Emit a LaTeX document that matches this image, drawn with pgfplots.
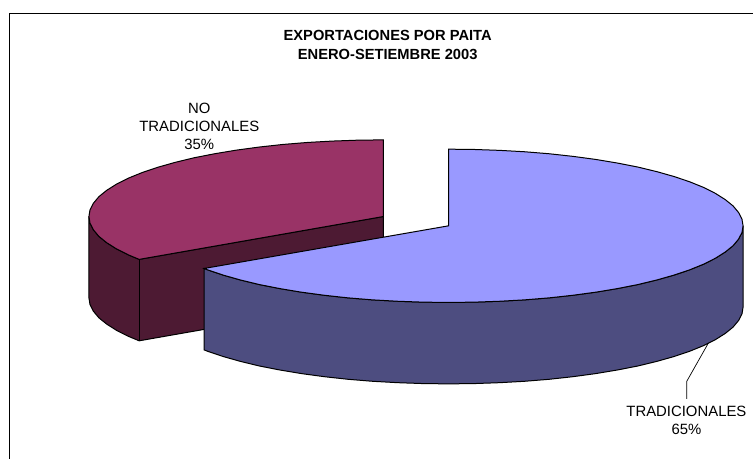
\documentclass[border=0pt]{standalone}
\usepackage{pgfplots}
\pgfplotsset{compat=1.18}
\usepackage{fontspec}
\setmainfont{Liberation Sans}
\definecolor{bluetop}{HTML}{9999FF}
\definecolor{blueside}{HTML}{4D4D80}
\definecolor{redtop}{HTML}{993366}
\definecolor{redside}{HTML}{4D1A33}
\begin{document}
\begin{tikzpicture}[x=1bp,y=1bp]
\begin{axis}[
  scale only axis, width=754bp, height=459bp,
  xmin=0, xmax=754, ymin=0, ymax=459, y dir=reverse,
  hide axis, clip=false,
]
\path (axis cs:0,0) rectangle (axis cs:754,459);
% chart frame (open at the picture's right and bottom edges)
\addplot[black, line width=1.3bp] coordinates {(9.3,459) (9.3,13.5) (754,13.5)};
% NO TRADICIONALES 35%: walls
\addplot[fill=redside, draw=black, line width=1bp] coordinates {
 (89,216.7) (90.1,223.4) (93.5,230) (99,236.6) (106.8,242.9) (116.6,249.1) (128.5,255.1) (139.3,259.6)
 (383.7,216.7) (383.7,298.2) (139.3,341.1)
 (128.5,336.6) (116.6,330.6) (106.8,324.4) (99,318.1) (93.5,311.5) (90.1,304.9) (89,298.2)
} -- cycle;
\addplot[draw=black, line width=1bp] coordinates {(139.3,259.6) (139.3,341.1)};
% NO TRADICIONALES 35%: top
\addplot[fill=redtop, draw=black, line width=1bp] coordinates {
 (383.7,216.7) (383.7,140) (358,140.3) (332.5,141.2) (307.4,142.6) (282.9,144.6) (259.2,147.2) (236.3,150.3)
 (214.7,153.9) (194.3,157.9) (175.3,162.5) (158,167.4) (142.3,172.7) (128.5,178.3) (116.6,184.3)
 (106.8,190.5) (99,196.8) (93.5,203.4) (90.1,210) (89,216.7) (90.1,223.4) (93.5,230) (99,236.6)
 (106.8,242.9) (116.6,249.1) (128.5,255.1) (139.3,259.6)
} -- cycle;
% TRADICIONALES 65%: wall
\addplot[fill=blueside, draw=black, line width=1bp] coordinates {
 (743.7,226) (742.6,232.7) (739.2,239.3) (733.7,245.9) (725.9,252.2) (716.1,258.4) (704.2,264.4) (690.4,270)
 (674.7,275.3) (657.4,280.2) (638.4,284.8) (618,288.8) (596.4,292.4) (573.5,295.5) (549.8,298.1) (525.3,300.1)
 (500.2,301.5) (474.7,302.4) (449,302.7) (423.3,302.4) (397.8,301.5) (372.7,300.1) (348.2,298.1) (324.5,295.5)
 (301.6,292.4) (280,288.8) (259.6,284.8) (240.6,280.2) (223.3,275.3) (207.6,270) (204.3,268.7)
 (204.3,350.2) (207.6,351.5) (223.3,356.8) (240.6,361.7) (259.6,366.3) (280,370.3) (301.6,373.9) (324.5,377)
 (348.2,379.6) (372.7,381.6) (397.8,383) (423.3,383.9) (449,384.2) (474.7,383.9) (500.2,383) (525.3,381.6)
 (549.8,379.6) (573.5,377) (596.4,373.9) (618,370.3) (638.4,366.3) (657.4,361.7) (674.7,356.8) (690.4,351.5)
 (704.2,345.9) (716.1,339.9) (725.9,333.7) (733.7,327.4) (739.2,320.8) (742.6,314.2) (743.7,307.5)
} -- cycle;
% TRADICIONALES 65%: top
\addplot[fill=bluetop, draw=black, line width=1bp] coordinates {
 (449,226) (449,149.3) (474.7,149.6) (500.2,150.5) (525.3,151.9) (549.8,153.9) (573.5,156.5) (596.4,159.6)
 (618,163.2) (638.4,167.2) (657.4,171.8) (674.7,176.7) (690.4,182) (704.2,187.6) (716.1,193.6) (725.9,199.8)
 (733.7,206.1) (739.2,212.7) (742.6,219.3) (743.7,226)
 (742.6,232.7) (739.2,239.3) (733.7,245.9) (725.9,252.2) (716.1,258.4) (704.2,264.4) (690.4,270)
 (674.7,275.3) (657.4,280.2) (638.4,284.8) (618,288.8) (596.4,292.4) (573.5,295.5) (549.8,298.1) (525.3,300.1)
 (500.2,301.5) (474.7,302.4) (449,302.7) (423.3,302.4) (397.8,301.5) (372.7,300.1) (348.2,298.1) (324.5,295.5)
 (301.6,292.4) (280,288.8) (259.6,284.8) (240.6,280.2) (223.3,275.3) (207.6,270) (204.3,268.7)
} -- cycle;
% leader line
\addplot[black, line width=0.7bp] coordinates {(709,343.3) (687.3,381.7) (687.3,399.3)};
% texts
\node[align=center, font=\fontsize{14.7bp}{19.5bp}\selectfont\bfseries] at (axis cs:388,45) {EXPORTACIONES POR PAITA\\ENERO-SETIEMBRE 2003};
\node[align=center, font=\fontsize{14.9bp}{18.3bp}\selectfont] at (axis cs:199.5,126.5) {NO\\TRADICIONALES\\35\%};
\node[align=center, font=\fontsize{14.9bp}{18.3bp}\selectfont] at (axis cs:687,421) {TRADICIONALES\\65\%};
\end{axis}
\end{tikzpicture}
\end{document}
